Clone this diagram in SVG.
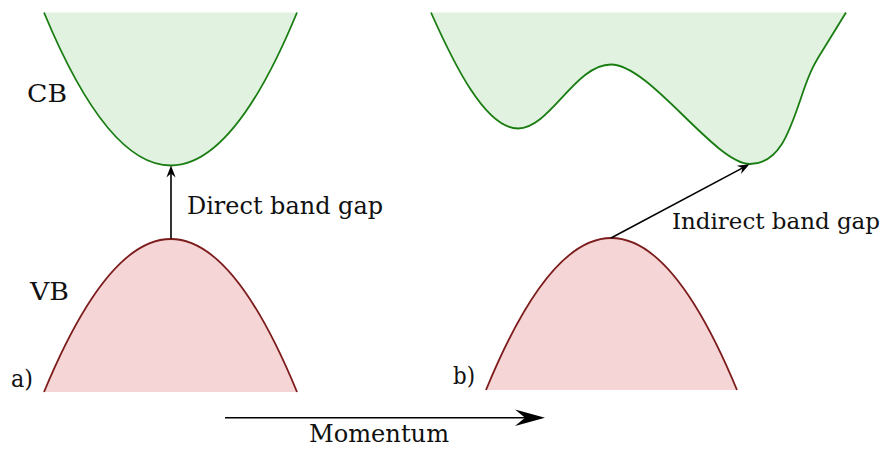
<svg xmlns="http://www.w3.org/2000/svg" width="890" height="449" viewBox="0 0 890 449">
<style>
.cbfill{fill:#e1f3e0;stroke:none}
.cbline{fill:none;stroke:#1a7d12;stroke-width:1.8}
.vbfill{fill:#f5d5d5;stroke:none}
.vbline{fill:none;stroke:#7d1c1c;stroke-width:1.8}
.arr{stroke:#000;stroke-width:1.6;fill:none}
.lbl{font-size:24.5px;fill:#111}
</style>
<defs>
<marker id="small" markerUnits="userSpaceOnUse" orient="auto" refX="0" refY="0" markerWidth="30" markerHeight="30" viewBox="-15 -15 30 30" overflow="visible">
<path d="M4.5,0 L-7.5,-4.6 L-3.5,0 L-7.5,4.6 Z" fill="#000"/>
</marker>
<marker id="big" markerUnits="userSpaceOnUse" orient="auto" refX="0" refY="0" markerWidth="60" markerHeight="60" viewBox="-30 -30 60 60" overflow="visible">
<path d="M15,0 L-15,-8.3 L-5,0 L-15,8.3 Z" fill="#000"/>
</marker>
</defs>

<g id="cb-left">
<path class="cbfill" d="M44,12.5 Q171,318.5 297,12.5 Z"/>
<path class="cbline" d="M44,12.5 Q171,318.5 297,12.5"/>
</g>
<g id="vb-left">
<path class="vbfill" d="M44,392 Q171,86 297,392 Z"/>
<path class="vbline" d="M44,392 Q171,86 297,392"/>
</g>
<g id="cb-right">
<path class="cbfill" d="M431,12.5 C453,62 485,128.5 518,128.5 C550,128.5 575,64.5 611,64.5 C650,64.5 715,164 750,164 C780,164 790,130 802,95 C812,65 818,58 826,45 L846,12.5 Z"/>
<path class="cbline" d="M431,12.5 C453,62 485,128.5 518,128.5 C550,128.5 575,64.5 611,64.5 C650,64.5 715,164 750,164 C780,164 790,130 802,95 C812,65 818,58 826,45 L846,12.5"/>
</g>
<g id="vb-right">
<path class="vbfill" d="M486,390 Q611,86 737,390 Z"/>
<path class="vbline" d="M486,390 Q611,86 737,390"/>
</g>

<g id="connectors">
<line class="arr" x1="171" y1="238.5" x2="171" y2="170" marker-end="url(#small)"/>
<line class="arr" x1="611" y1="238" x2="745.5" y2="166.4" marker-end="url(#small)"/>
<line class="arr" x1="225" y1="417.7" x2="530" y2="417.7" marker-end="url(#big)"/>
</g>

<g id="labels" font-family="'DejaVu Serif', serif">
<text class="lbl" x="27" y="101.5" textLength="40" lengthAdjust="spacingAndGlyphs">CB</text>
<text class="lbl" x="30" y="300" textLength="39" lengthAdjust="spacingAndGlyphs">VB</text>
<text class="lbl" x="11" y="386.5" textLength="22" lengthAdjust="spacingAndGlyphs">a)</text>
<text class="lbl" x="453" y="384" textLength="22" lengthAdjust="spacingAndGlyphs">b)</text>
<text class="lbl" x="187" y="214" textLength="196" lengthAdjust="spacingAndGlyphs">Direct band gap</text>
<text class="lbl" x="672" y="229" style="font-size:23px" textLength="208" lengthAdjust="spacingAndGlyphs">Indirect band gap</text>
<text class="lbl" x="309" y="442" textLength="140" lengthAdjust="spacingAndGlyphs">Momentum</text>
</g>
</svg>
